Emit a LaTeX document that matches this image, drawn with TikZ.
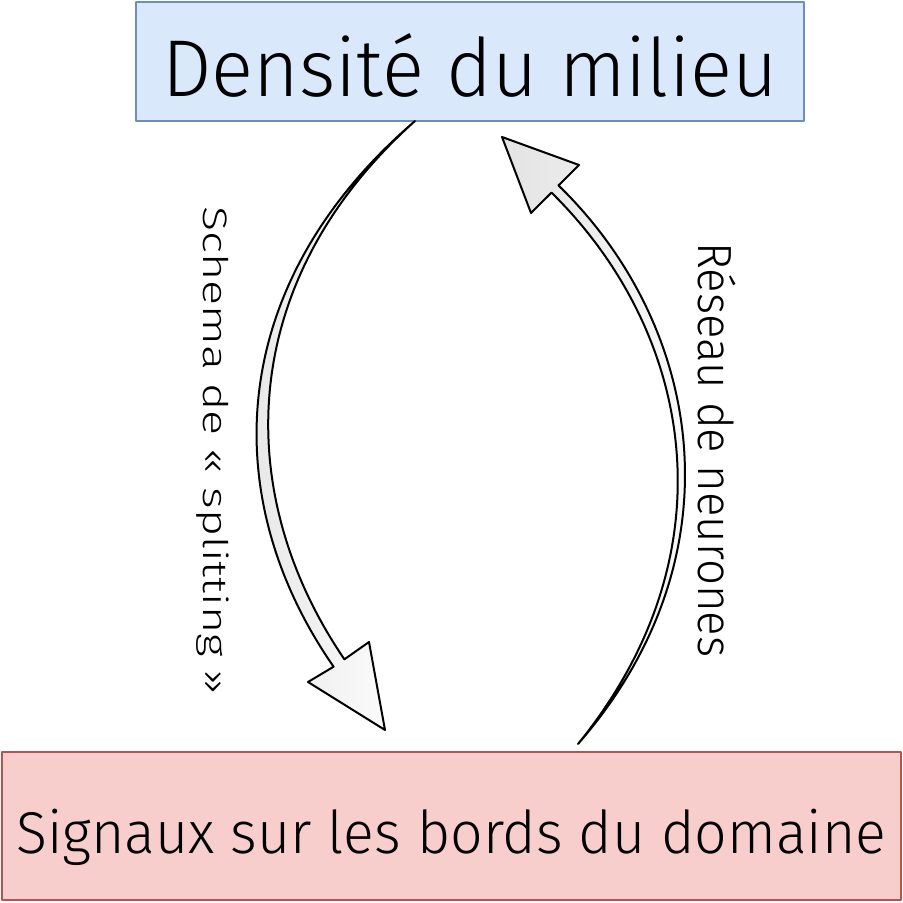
\documentclass[tikz,border=0pt]{standalone}
\usepackage{fontspec}
\setmainfont{Fira Sans}[UprightFont=* Light, FakeStretch=0.97]
\newfontfamily\fschema{Fira Sans}[UprightFont=* Light, FakeStretch=1.37]
\newfontfamily\freseau{Fira Sans}[UprightFont=* Light, FakeStretch=0.95]
\definecolor{bleufond}{HTML}{DAE8FC}
\definecolor{bleubord}{HTML}{6C8EBF}
\definecolor{rougefond}{HTML}{F8CECC}
\definecolor{rougebord}{HTML}{B85450}
\begin{document}
\begin{tikzpicture}[x=0.5pt,y=-0.5pt, line join=round, line cap=round,
		boite/.style={draw, line width=1pt, inner sep=0pt, text depth=0pt},
		fleche/.style={draw=black, line width=1pt, left color=gray!22, right color=white},
		legende/.style={rotate=-90, inner sep=0pt, anchor=base}]
		\useasboundingbox (0,0) rectangle (903,903);
		\node[boite, draw=bleubord, fill=bleufond, minimum width=334pt, minimum height=59.5pt, text height=35.5pt] (dens) at (470,61.5) {\fontsize{40.3}{40}\selectfont Densité du milieu};
		\node[boite, draw=rougebord, fill=rougefond, minimum width=449.5pt, minimum height=74pt, text height=27pt] (sig) at (451.5,826) {\fontsize{29.5}{30}\selectfont Signaux sur les bords du domaine};
		\coordinate (s1) at (415,121);
		\coordinate (s2) at (578,744);
		% schema de splitting : du milieu vers les bords
		\draw[fleche] (s1) .. controls (224,285) and (217,499) .. (333.6,666.7) -- (308,682) -- (385,730) -- (369,642) -- (344.4,659.3) .. controls (231,493) and (236,281) .. (s1) -- cycle;
		% reseau de neurones : des bords vers le milieu
		\draw[fleche] (s2) .. controls (742,556) and (703,326) .. (558.5,185.4) -- (579,165) -- (502,137) -- (531,213) -- (551.5,192.6) .. controls (693,332) and (734,552) .. (s2) -- cycle;
		\node[legende, font=\fschema\fontsize{17}{17}\selectfont] (schema) at (203,451) {Schema de « splitting »};
		\node[legende, font=\freseau\fontsize{24}{24}\selectfont] (reseau) at (698,450) {Réseau de neurones};
\end{tikzpicture}
\end{document}
